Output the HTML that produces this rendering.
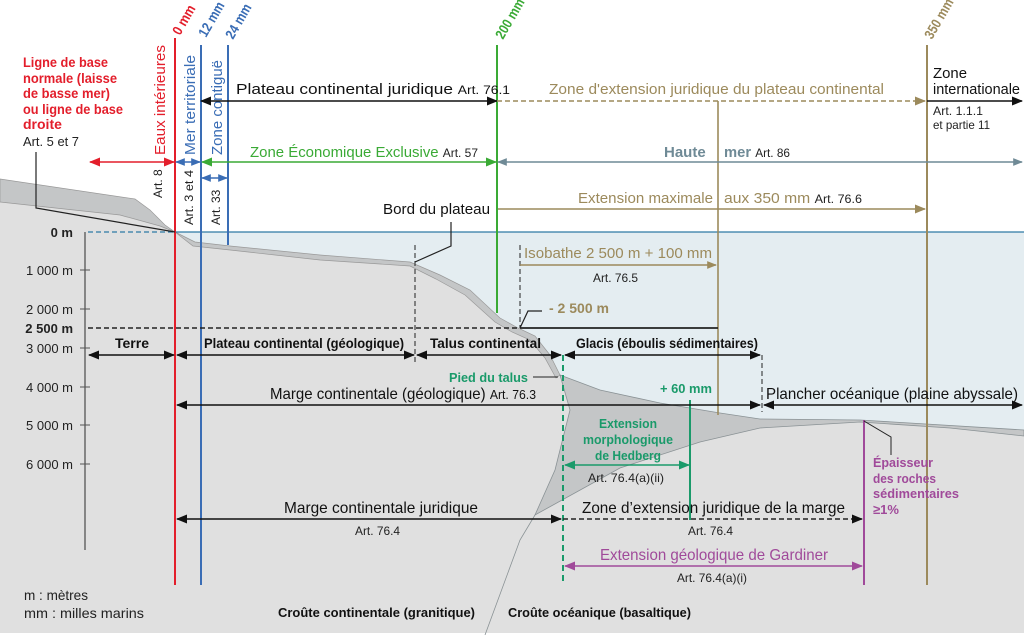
<!DOCTYPE html>
<html><head><meta charset="utf-8"><style>
html,body{margin:0;padding:0;background:#fff}
svg{display:block}
text{font-family:"Liberation Sans Narrow","Liberation Sans",sans-serif}
</style></head><body>
<svg width="1024" height="635" viewBox="0 0 1024 635" xmlns="http://www.w3.org/2000/svg">
<defs>
<marker id="ak" viewBox="0 0 10 10" refX="9" refY="5" markerWidth="7" markerHeight="7" orient="auto-start-reverse"><path d="M0,1 L10,5 L0,9 z" fill="#111"/></marker>
<marker id="ar" viewBox="0 0 10 10" refX="9" refY="5" markerWidth="7" markerHeight="7" orient="auto-start-reverse"><path d="M0,1 L10,5 L0,9 z" fill="#e31e2b"/></marker>
<marker id="ab" viewBox="0 0 10 10" refX="9" refY="5" markerWidth="7" markerHeight="7" orient="auto-start-reverse"><path d="M0,1 L10,5 L0,9 z" fill="#3a6db5"/></marker>
<marker id="ag" viewBox="0 0 10 10" refX="9" refY="5" markerWidth="7" markerHeight="7" orient="auto-start-reverse"><path d="M0,1 L10,5 L0,9 z" fill="#3aaa35"/></marker>
<marker id="ao" viewBox="0 0 10 10" refX="9" refY="5" markerWidth="7" markerHeight="7" orient="auto-start-reverse"><path d="M0,1 L10,5 L0,9 z" fill="#9c8a5c"/></marker>
<marker id="ah" viewBox="0 0 10 10" refX="9" refY="5" markerWidth="7" markerHeight="7" orient="auto-start-reverse"><path d="M0,1 L10,5 L0,9 z" fill="#6f8a96"/></marker>
<marker id="at" viewBox="0 0 10 10" refX="9" refY="5" markerWidth="7" markerHeight="7" orient="auto-start-reverse"><path d="M0,1 L10,5 L0,9 z" fill="#1a9a6a"/></marker>
<marker id="ap" viewBox="0 0 10 10" refX="9" refY="5" markerWidth="7" markerHeight="7" orient="auto-start-reverse"><path d="M0,1 L10,5 L0,9 z" fill="#a04a9a"/></marker>
</defs>
<rect x="0" y="232" width="1024" height="400" fill="#e4edf1"/>
<path d="M0,179 L135,199 L150,210 L165,225 L175,232 L195,242 L230,246 L320,255 L410,262 L440,275 L470,290 L500,318 L518,328 L535,336 L550,355 L560,375 L600,390 L660,403 L720,413 L760,419 L860,420 L1024,430 L1024,633 L0,633 Z" fill="#e0e0e0"/>
<path d="M0,179 L135,199 L150,210 L165,225 L175,232 L160,226 L120,215 L0,202 Z" fill="#c4c6c7" stroke="#999" stroke-width="0.7"/>
<path d="M175,232 L195,242 L230,246 L320,255 L410,262 L440,275 L470,290 L500,318 L518,328 L535,336 L550,355 L560,375 L556,378 L545,358 L530,340 L512,332 L495,322 L465,295 L436,279 L410,266 L320,260 L230,250 L193,246 Z" fill="#c4c6c7" stroke="#999" stroke-width="0.7"/>
<path d="M560,375 L600,390 L660,403 L720,413 L760,419 L860,420 L1024,430 L1024,436 L950,428 L860,422 L760,428 L700,442 L620,468 L535,515 L555,470 L570,410 Z" fill="#c4c6c7" stroke="#8a9295" stroke-width="0.8"/>
<path d="M535,515 L520,540 L485,635" fill="none" stroke="#8a9295" stroke-width="0.8"/>
<line x1="175" y1="232" x2="1024" y2="232" stroke="#2d7aa5" stroke-width="1.3"/>
<line x1="88" y1="232" x2="175" y2="232" stroke="#2d7aa5" stroke-width="1.3" stroke-dasharray="5,3"/>
<line x1="85" y1="232" x2="85" y2="550" stroke="#555" stroke-width="1.3"/>
<g stroke="#555" stroke-width="1"><line x1="80" y1="270" x2="90" y2="270"/><line x1="80" y1="309" x2="90" y2="309"/><line x1="80" y1="348" x2="90" y2="348"/><line x1="80" y1="387" x2="90" y2="387"/><line x1="80" y1="425" x2="90" y2="425"/><line x1="80" y1="464" x2="90" y2="464"/></g>
<g font-size="13" fill="#222" text-anchor="end">
<text x="73" y="237" font-weight="bold">0 m</text>
<text x="73" y="275">1 000 m</text>
<text x="73" y="314">2 000 m</text>
<text x="73" y="333" font-weight="bold">2 500 m</text>
<text x="73" y="353">3 000 m</text>
<text x="73" y="392">4 000 m</text>
<text x="73" y="430">5 000 m</text>
<text x="73" y="469">6 000 m</text>
</g>
<line x1="175" y1="38" x2="175" y2="585" stroke="#e31e2b" stroke-width="2"/>
<line x1="201" y1="45" x2="201" y2="585" stroke="#3a6db5" stroke-width="2"/>
<line x1="228" y1="45" x2="228" y2="245" stroke="#3a6db5" stroke-width="2"/>
<line x1="497" y1="45" x2="497" y2="313" stroke="#3aaa35" stroke-width="2"/>
<line x1="927" y1="45" x2="927" y2="585" stroke="#9c8a5c" stroke-width="2"/>
<line x1="718" y1="101" x2="718" y2="415" stroke="#9c8a5c" stroke-width="1.6"/>
<line x1="563" y1="355" x2="563" y2="585" stroke="#1a9a6a" stroke-width="2" stroke-dasharray="6,4"/>
<line x1="690" y1="400" x2="690" y2="520" stroke="#1a9a6a" stroke-width="2"/>
<line x1="864" y1="420" x2="864" y2="585" stroke="#a04a9a" stroke-width="2"/>
<g stroke="#222" stroke-width="1" stroke-dasharray="5,3" fill="none">
<line x1="415" y1="245" x2="415" y2="365"/>
<line x1="520" y1="245" x2="520" y2="328"/>
<line x1="762" y1="355" x2="762" y2="412"/>
<line x1="88" y1="328" x2="520" y2="328" stroke-width="1.6"/>
<line x1="563" y1="519" x2="862" y2="519" stroke-width="1.6" marker-end="url(#ak)"/>
</g>
<line x1="520" y1="328" x2="718" y2="328" stroke="#222" stroke-width="1.8"/>
<g font-size="14" font-weight="bold">
<text transform="translate(180,36) rotate(-60)" fill="#e31e2b" textLength="32" lengthAdjust="spacingAndGlyphs">0 mm</text>
<text transform="translate(206,38) rotate(-60)" fill="#3a6db5" textLength="38" lengthAdjust="spacingAndGlyphs">12 mm</text>
<text transform="translate(233,40) rotate(-60)" fill="#3a6db5" textLength="38" lengthAdjust="spacingAndGlyphs">24 mm</text>
<text transform="translate(503,40) rotate(-60)" fill="#3aaa35" textLength="44" lengthAdjust="spacingAndGlyphs">200 mm</text>
<text transform="translate(932,40) rotate(-60)" fill="#9c8a5c" textLength="44" lengthAdjust="spacingAndGlyphs">350 mm</text>
</g>
<g font-size="15">
<text transform="translate(165,155) rotate(-90)" fill="#e31e2b" textLength="110" lengthAdjust="spacingAndGlyphs">Eaux intérieures</text>
<text transform="translate(195,155) rotate(-90)" fill="#3a6db5" textLength="100" lengthAdjust="spacingAndGlyphs">Mer territoriale</text>
<text transform="translate(222,155) rotate(-90)" fill="#3a6db5" textLength="95" lengthAdjust="spacingAndGlyphs">Zone contiguë</text>
</g>
<g font-size="12" fill="#222">
<text transform="translate(162,198) rotate(-90)">Art. 8</text>
<text transform="translate(193,225) rotate(-90)" textLength="55" lengthAdjust="spacingAndGlyphs">Art. 3 et 4</text>
<text transform="translate(220,225) rotate(-90)">Art. 33</text>
</g>
<g font-size="14" font-weight="bold" fill="#e31e2b">
<text x="23" y="67" textLength="85" lengthAdjust="spacingAndGlyphs">Ligne de base</text>
<text x="23" y="83" textLength="94" lengthAdjust="spacingAndGlyphs">normale (laisse</text>
<text x="23" y="98" textLength="87" lengthAdjust="spacingAndGlyphs">de basse mer)</text>
<text x="23" y="114" textLength="100" lengthAdjust="spacingAndGlyphs">ou ligne de base</text>
<text x="23" y="129">droite</text>
</g>
<text x="23" y="146" font-size="13" fill="#222" textLength="56" lengthAdjust="spacingAndGlyphs">Art. 5 et 7</text>
<path d="M36,152 L36,208 L175,232" fill="none" stroke="#222" stroke-width="1.2"/>
<text x="236" y="94" font-size="15" fill="#111" textLength="274" lengthAdjust="spacingAndGlyphs">Plateau continental juridique <tspan font-size="12">Art. 76.1</tspan></text>
<line x1="201" y1="101" x2="497" y2="101" stroke="#111" stroke-width="1.6" marker-start="url(#ak)" marker-end="url(#ak)"/>
<line x1="497" y1="101" x2="925" y2="101" stroke="#9c8a5c" stroke-width="1.6" stroke-dasharray="5,3" marker-end="url(#ao)"/>
<text x="549" y="94" font-size="15" fill="#9c8a5c" textLength="335" lengthAdjust="spacingAndGlyphs">Zone d'extension juridique du plateau continental</text>
<line x1="927" y1="101" x2="1022" y2="101" stroke="#111" stroke-width="1.6" marker-end="url(#ak)"/>
<text x="933" y="78" font-size="15" fill="#111" textLength="34" lengthAdjust="spacingAndGlyphs">Zone</text>
<text x="933" y="94" font-size="15" fill="#111" textLength="87" lengthAdjust="spacingAndGlyphs">internationale</text>
<text x="933" y="115" font-size="12" fill="#222" textLength="50" lengthAdjust="spacingAndGlyphs">Art. 1.1.1</text>
<text x="933" y="129" font-size="12" fill="#222" textLength="57" lengthAdjust="spacingAndGlyphs">et partie 11</text>
<line x1="90" y1="162" x2="174" y2="162" stroke="#e31e2b" stroke-width="1.6" marker-start="url(#ar)" marker-end="url(#ar)"/>
<line x1="176" y1="162" x2="200" y2="162" stroke="#3a6db5" stroke-width="1.4" marker-start="url(#ab)" marker-end="url(#ab)"/>
<line x1="202" y1="162" x2="496" y2="162" stroke="#3aaa35" stroke-width="1.6" marker-start="url(#ag)" marker-end="url(#ag)"/>
<text x="250" y="157" font-size="15" fill="#3aaa35" textLength="228" lengthAdjust="spacingAndGlyphs">Zone Économique Exclusive <tspan font-size="12" fill="#222">Art. 57</tspan></text>
<line x1="498" y1="162" x2="1022" y2="162" stroke="#6f8a96" stroke-width="1.4" marker-start="url(#ah)" marker-end="url(#ah)"/>
<text x="664" y="157" font-size="15" font-weight="bold" fill="#6f8a96">Haute</text>
<text x="724" y="157" font-size="15" font-weight="bold" fill="#6f8a96" textLength="66" lengthAdjust="spacingAndGlyphs">mer <tspan font-size="12" font-weight="normal" fill="#222">Art. 86</tspan></text>
<line x1="202" y1="178" x2="227" y2="178" stroke="#3a6db5" stroke-width="1.4" marker-start="url(#ab)" marker-end="url(#ab)"/>
<line x1="498" y1="209" x2="925" y2="209" stroke="#9c8a5c" stroke-width="1.6" marker-end="url(#ao)"/>
<text x="578" y="203" font-size="15" fill="#9c8a5c" textLength="135" lengthAdjust="spacingAndGlyphs">Extension maximale</text>
<text x="724" y="203" font-size="15" fill="#9c8a5c" textLength="138" lengthAdjust="spacingAndGlyphs">aux 350 mm <tspan font-size="12" fill="#222">Art. 76.6</tspan></text>
<text x="383" y="214" font-size="15" fill="#111" textLength="107" lengthAdjust="spacingAndGlyphs">Bord du plateau</text>
<path d="M451,222 L451,246 L415,262" fill="none" stroke="#222" stroke-width="1.2"/>
<text x="524" y="258" font-size="15" fill="#9c8a5c" textLength="188" lengthAdjust="spacingAndGlyphs">Isobathe 2 500 m + 100 mm</text>
<line x1="520" y1="265" x2="716" y2="265" stroke="#9c8a5c" stroke-width="1.4" marker-end="url(#ao)"/>
<text x="593" y="282" font-size="12" fill="#222" textLength="45" lengthAdjust="spacingAndGlyphs">Art. 76.5</text>
<path d="M520,328 L528,311 L542,311" fill="none" stroke="#222" stroke-width="1.2"/>
<text x="549" y="313" font-size="14" font-weight="bold" fill="#9c8a5c" textLength="60" lengthAdjust="spacingAndGlyphs">- 2 500 m</text>
<g stroke="#111" stroke-width="1.6">
<line x1="89" y1="355" x2="174" y2="355" marker-start="url(#ak)" marker-end="url(#ak)"/>
<line x1="177" y1="355" x2="414" y2="355" marker-start="url(#ak)" marker-end="url(#ak)"/>
<line x1="417" y1="355" x2="561" y2="355" marker-start="url(#ak)" marker-end="url(#ak)"/>
<line x1="565" y1="355" x2="760" y2="355" marker-start="url(#ak)" marker-end="url(#ak)"/>
</g>
<g font-size="14" font-weight="bold" fill="#111">
<text x="115" y="348">Terre</text>
<text x="204" y="348" textLength="200" lengthAdjust="spacingAndGlyphs">Plateau continental (géologique)</text>
<text x="430" y="348" textLength="111" lengthAdjust="spacingAndGlyphs">Talus continental</text>
<text x="576" y="348" textLength="182" lengthAdjust="spacingAndGlyphs">Glacis (éboulis sédimentaires)</text>
</g>
<text x="449" y="382" font-size="13" font-weight="bold" fill="#1a9a6a" textLength="79" lengthAdjust="spacingAndGlyphs">Pied du talus</text>
<line x1="533" y1="377" x2="558" y2="377" stroke="#222" stroke-width="1"/>
<line x1="177" y1="405" x2="760" y2="405" stroke="#111" stroke-width="1.6" marker-start="url(#ak)" marker-end="url(#ak)"/>
<line x1="764" y1="405" x2="1022" y2="405" stroke="#111" stroke-width="1.6" marker-start="url(#ak)" marker-end="url(#ak)"/>
<text x="270" y="399" font-size="16" fill="#111" textLength="266" lengthAdjust="spacingAndGlyphs">Marge continentale (géologique) <tspan font-size="13">Art. 76.3</tspan></text>
<text x="766" y="399" font-size="16" fill="#111" textLength="252" lengthAdjust="spacingAndGlyphs">Plancher océanique (plaine abyssale)</text>
<text x="660" y="393" font-size="13" font-weight="bold" fill="#1a9a6a" textLength="52" lengthAdjust="spacingAndGlyphs">+ 60 mm</text>
<g font-size="13" font-weight="bold" fill="#1a9a6a" text-anchor="middle">
<text x="628" y="428" textLength="58" lengthAdjust="spacingAndGlyphs">Extension</text>
<text x="628" y="444" textLength="90" lengthAdjust="spacingAndGlyphs">morphologique</text>
<text x="628" y="460" textLength="66" lengthAdjust="spacingAndGlyphs">de Hedberg</text>
</g>
<line x1="565" y1="465" x2="689" y2="465" stroke="#1a9a6a" stroke-width="1.6" marker-start="url(#at)" marker-end="url(#at)"/>
<text x="588" y="482" font-size="12" fill="#222" textLength="76" lengthAdjust="spacingAndGlyphs">Art. 76.4(a)(ii)</text>
<path d="M864,421 L891,437 L891,455" fill="none" stroke="#222" stroke-width="1"/>
<g font-size="13" font-weight="bold" fill="#a04a9a">
<text x="873" y="467" textLength="60" lengthAdjust="spacingAndGlyphs">Épaisseur</text>
<text x="873" y="483" textLength="63" lengthAdjust="spacingAndGlyphs">des roches</text>
<text x="873" y="498" textLength="86" lengthAdjust="spacingAndGlyphs">sédimentaires</text>
<text x="873" y="514">≥1%</text>
</g>
<line x1="177" y1="519" x2="561" y2="519" stroke="#111" stroke-width="1.6" marker-start="url(#ak)" marker-end="url(#ak)"/>
<text x="284" y="513" font-size="16" fill="#111" textLength="194" lengthAdjust="spacingAndGlyphs">Marge continentale juridique</text>
<text x="355" y="535" font-size="12" fill="#222" textLength="45" lengthAdjust="spacingAndGlyphs">Art. 76.4</text>
<text x="582" y="513" font-size="16" fill="#111" textLength="263" lengthAdjust="spacingAndGlyphs">Zone d’extension juridique de la marge</text>
<text x="688" y="535" font-size="12" fill="#222" textLength="45" lengthAdjust="spacingAndGlyphs">Art. 76.4</text>
<line x1="565" y1="566" x2="862" y2="566" stroke="#a04a9a" stroke-width="1.6" marker-start="url(#ap)" marker-end="url(#ap)"/>
<text x="600" y="560" font-size="16" fill="#a04a9a" textLength="228" lengthAdjust="spacingAndGlyphs">Extension géologique de Gardiner</text>
<text x="677" y="582" font-size="12" fill="#222" textLength="70" lengthAdjust="spacingAndGlyphs">Art. 76.4(a)(i)</text>
<text x="24" y="600" font-size="14" fill="#222" textLength="64" lengthAdjust="spacingAndGlyphs">m : mètres</text>
<text x="24" y="618" font-size="14" fill="#222" textLength="120" lengthAdjust="spacingAndGlyphs">mm : milles marins</text>
<text x="278" y="617" font-size="13" font-weight="bold" fill="#111" textLength="197" lengthAdjust="spacingAndGlyphs">Croûte continentale (granitique)</text>
<text x="508" y="617" font-size="13" font-weight="bold" fill="#111" textLength="183" lengthAdjust="spacingAndGlyphs">Croûte océanique (basaltique)</text>
</svg>
</body></html>
